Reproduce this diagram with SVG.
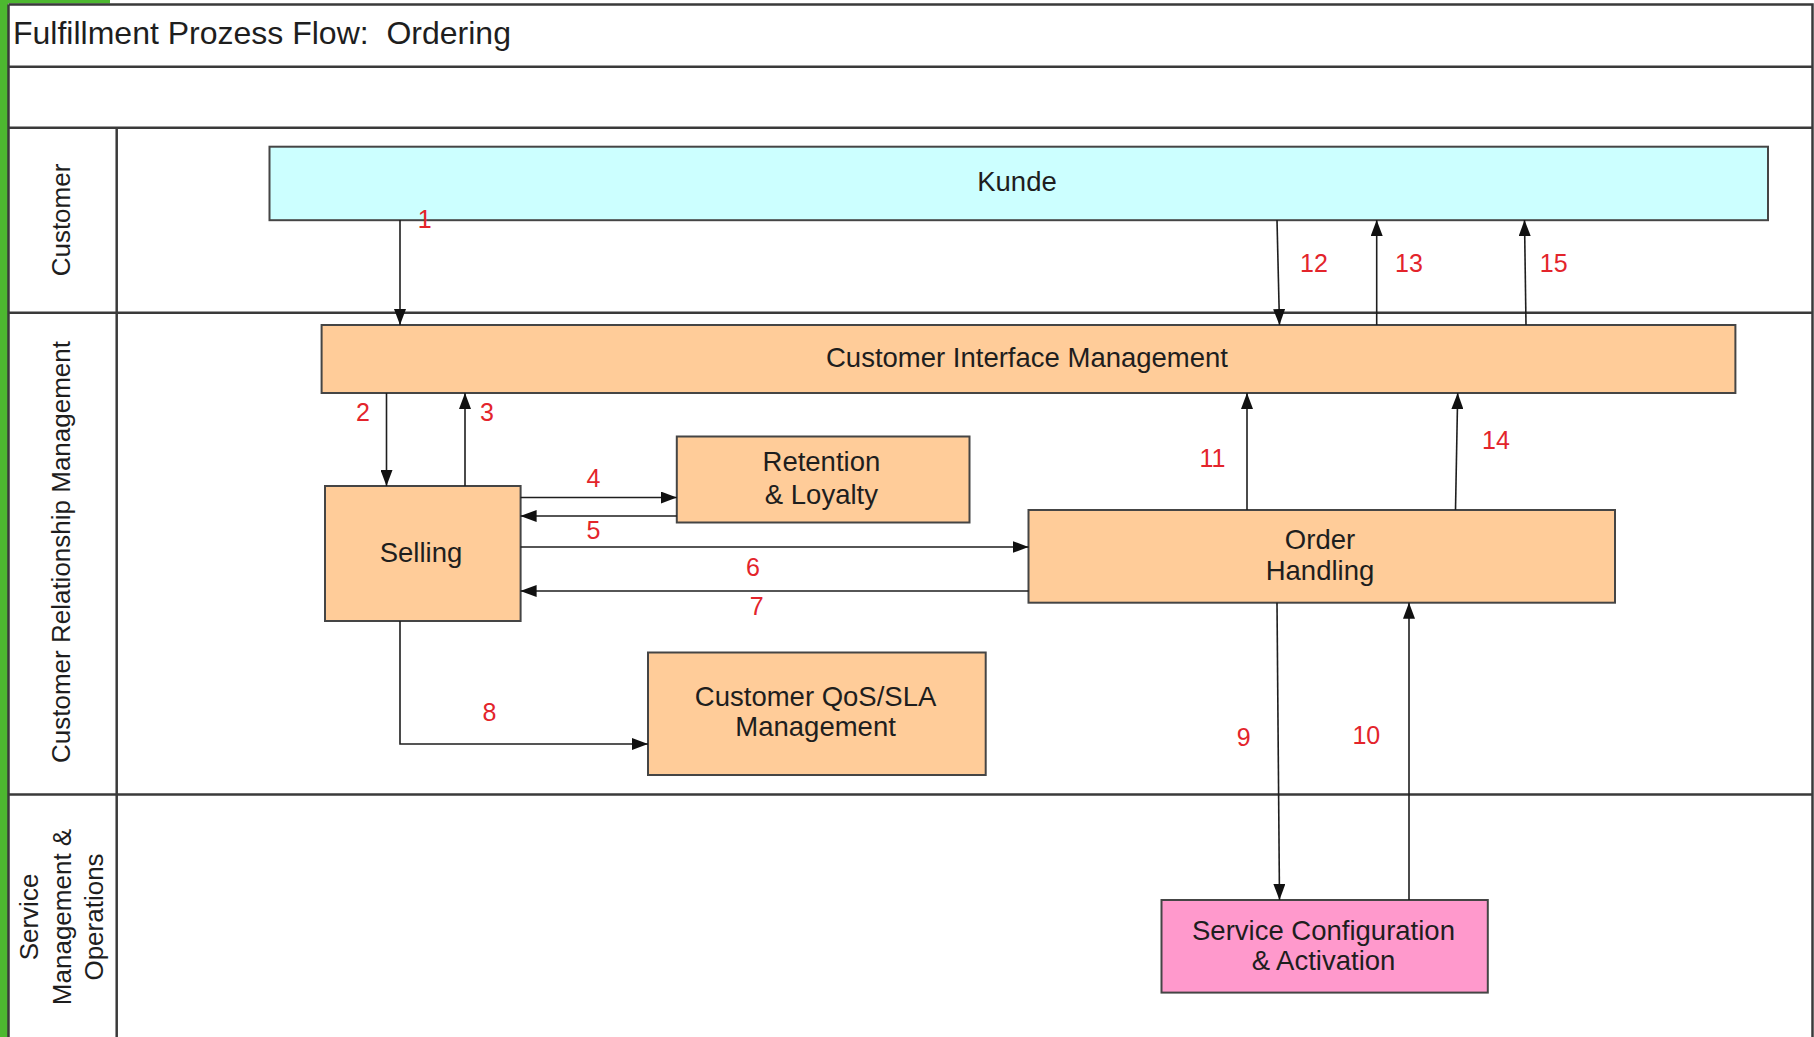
<svg xmlns="http://www.w3.org/2000/svg" width="1814" height="1037" viewBox="0 0 1814 1037">
  <style>
    .frame { fill: none; stroke: #3a3a3a; stroke-width: 2.5; }
    .box { stroke: #454545; stroke-width: 2; }
    .cust { fill: #CCFFFF; }
    .crm { fill: #FFCC99; }
    .smo { fill: #FF99CC; }
    .txt { font-family: "Liberation Sans", Arial, sans-serif; font-size: 27.5px; fill: #1e1e1e; text-anchor: middle; }
    .lane { font-family: "Liberation Sans", Arial, sans-serif; font-size: 26px; fill: #1e1e1e; text-anchor: middle; }
    .title { font-family: "Liberation Sans", Arial, sans-serif; font-size: 32px; fill: #1e1e1e; white-space: pre; }
    .num { font-family: "Liberation Sans", Arial, sans-serif; font-size: 25px; fill: #E3242B; text-anchor: middle; }
    .conn { fill: none; stroke: #1e1e1e; stroke-width: 1.6; }
    .arrow { marker-end: url(#head); }
  </style>
  <defs>
    <marker id="head" markerUnits="userSpaceOnUse" markerWidth="16" markerHeight="12" refX="16" refY="6" orient="auto">
      <path d="M0,0 L16,6 L0,12 Z" fill="#111"/>
    </marker>
  </defs>

  <!-- background and green edge -->
  <rect x="0" y="0" width="1814" height="1037" fill="#ffffff"/>
  <rect x="0" y="0" width="8" height="1037" fill="#4DB830"/>
  <rect x="0" y="0" width="110" height="3.5" fill="#4DB830"/>

  <!-- swimlane frame -->
  <g id="lanes">
    <path class="frame" d="M8.5,4.5 H1812.5 V1037 M8.5,4.5 V1037"/>
    <path class="frame" d="M8.5,66.7 H1812.5 M8.5,127.7 H1812.5 M8.5,312.7 H1812.5 M8.5,794.5 H1812.5"/>
    <path class="frame" d="M116.7,127.7 V1037"/>
    <text class="title" x="13" y="43.5" xml:space="preserve">Fulfillment Prozess Flow:  Ordering</text>
    <text class="lane" transform="translate(70,220) rotate(-90)">Customer</text>
    <text class="lane" transform="translate(70,552) rotate(-90)">Customer Relationship Management</text>
    <text class="lane" transform="translate(38,917) rotate(-90)">Service</text>
    <text class="lane" transform="translate(70.5,917) rotate(-90)">Management &amp;</text>
    <text class="lane" transform="translate(103,917) rotate(-90)">Operations</text>
  </g>

  <!-- process nodes -->
  <g id="kunde">
    <rect class="box cust" x="269.5" y="146.7" width="1498.5" height="73.5"/>
    <text class="txt" x="1017" y="191">Kunde</text>
  </g>
  <g id="customer-interface-management">
    <rect class="box crm" x="321.6" y="325" width="1413.8" height="68"/>
    <text class="txt" x="1027" y="367">Customer Interface Management</text>
  </g>
  <g id="selling">
    <rect class="box crm" x="325" y="486" width="195.6" height="135"/>
    <text class="txt" x="421" y="562">Selling</text>
  </g>
  <g id="retention-loyalty">
    <rect class="box crm" x="676.8" y="436.5" width="292.7" height="86"/>
    <text class="txt" x="821.4" y="471.3">Retention</text>
    <text class="txt" x="821.4" y="503.7">&amp; Loyalty</text>
  </g>
  <g id="order-handling">
    <rect class="box crm" x="1028.5" y="510" width="586.5" height="92.7"/>
    <text class="txt" x="1320" y="549">Order</text>
    <text class="txt" x="1320" y="580">Handling</text>
  </g>
  <g id="customer-qos-sla">
    <rect class="box crm" x="648" y="652.5" width="337.7" height="122.5"/>
    <text class="txt" x="815.6" y="706">Customer QoS/SLA</text>
    <text class="txt" x="815.6" y="736">Management</text>
  </g>
  <g id="service-configuration">
    <rect class="box smo" x="1161.5" y="900" width="326.3" height="92.6"/>
    <text class="txt" x="1323.5" y="940">Service Configuration</text>
    <text class="txt" x="1323.5" y="970">&amp; Activation</text>
  </g>

  <!-- numbered flows -->
  <g id="connectors">
    <path class="conn arrow" d="M400,220 L400,325"/>
    <path class="conn arrow" d="M386.5,393 L386.5,486"/>
    <path class="conn arrow" d="M465,486 L465,393"/>
    <path class="conn arrow" d="M520.6,497.5 L676.8,497.5"/>
    <path class="conn arrow" d="M676.8,516 L520.6,516"/>
    <path class="conn arrow" d="M520.6,547 L1028.5,547"/>
    <path class="conn arrow" d="M1028.5,591 L520.6,591"/>
    <path class="conn arrow" d="M400,621 L400,744 L648,744"/>
    <path class="conn arrow" d="M1277,602.7 L1279.5,900"/>
    <path class="conn arrow" d="M1409,900 L1409,602.7"/>
    <path class="conn arrow" d="M1247,510 L1247,393"/>
    <path class="conn arrow" d="M1277,220 L1279.5,325"/>
    <path class="conn arrow" d="M1376.7,325 L1376.7,220"/>
    <path class="conn arrow" d="M1455.5,510 L1457.7,393"/>
    <path class="conn arrow" d="M1526,325 L1524.5,220"/>
  </g>

  <g id="flow-numbers">
    <text class="num" x="424.6" y="227.6">1</text>
    <text class="num" x="363" y="421">2</text>
    <text class="num" x="487" y="421">3</text>
    <text class="num" x="593.5" y="487">4</text>
    <text class="num" x="593.5" y="539">5</text>
    <text class="num" x="753" y="576">6</text>
    <text class="num" x="756.6" y="615">7</text>
    <text class="num" x="489.4" y="720.5">8</text>
    <text class="num" x="1243.7" y="746">9</text>
    <text class="num" x="1366.3" y="743.6">10</text>
    <text class="num" x="1212.4" y="467">11</text>
    <text class="num" x="1314" y="271.6">12</text>
    <text class="num" x="1409" y="271.6">13</text>
    <text class="num" x="1496" y="448.6">14</text>
    <text class="num" x="1553.7" y="271.6">15</text>
  </g>
</svg>
